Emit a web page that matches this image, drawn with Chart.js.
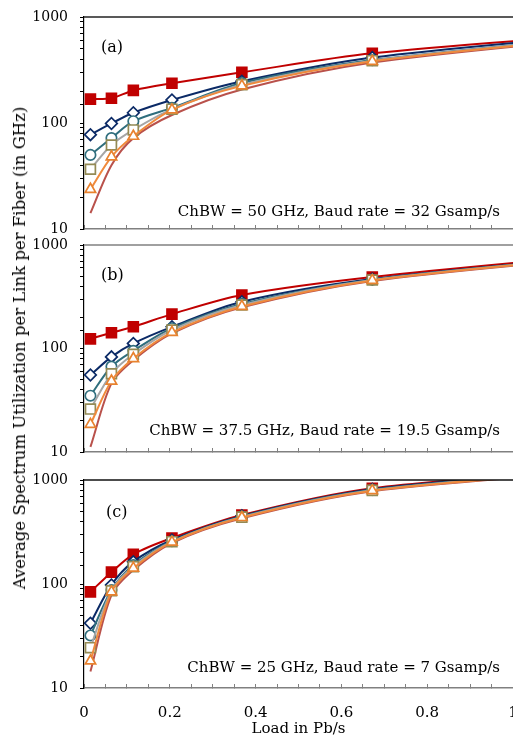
<!DOCTYPE html>
<html>
<head>
<meta charset="utf-8">
<script src="https://cdn.jsdelivr.net/npm/chart.js@4.4.1/dist/chart.umd.min.js"></script>
<style>
  html, body { margin: 0; padding: 0; background: #fff; overflow: hidden; }
  #wrap { position: relative; width: 513px; height: 740px; font-family: 'DejaVu Serif', serif; color: #000; }
  #wrap canvas { position: absolute; left: 0; top: 0; }
  .txt { position: absolute; white-space: nowrap; line-height: 18px; }
  .tag { font-size: 16px; }
  .note { font-size: 15px; right: 13px; }
  #ytitle { left: 20px; top: 348px; font-size: 16.5px; transform: translate(-50%, -50%) rotate(-90deg); }
</style>
</head>
<body>
<div id="wrap">
  <canvas id="panel-a" width="513" height="740"></canvas>
  <canvas id="panel-b" width="513" height="740"></canvas>
  <canvas id="panel-c" width="513" height="740"></canvas>
  <div class="txt tag" style="left:101px; top:38px;">(a)</div>
  <div class="txt tag" style="left:101px; top:266px;">(b)</div>
  <div class="txt tag" style="left:106px; top:503px;">(c)</div>
  <div class="txt note" style="top:202px;">ChBW = 50 GHz, Baud rate = 32 Gsamp/s</div>
  <div class="txt note" style="top:421px;">ChBW = 37.5 GHz, Baud rate = 19.5 Gsamp/s</div>
  <div class="txt note" style="top:658px;">ChBW = 25 GHz, Baud rate = 7 Gsamp/s</div>
  <div class="txt" id="ytitle">Average Spectrum Utilization per Link per Fiber (in GHz)</div>
</div>
<script>
// offered load (Pb/s), shared by every curve
const loads = [0.015, 0.064, 0.115, 0.205, 0.368, 0.672, 1.22];
const yMajorTicks = [10, 100, 1000];
const xLabelTicks = [0, 0.2, 0.4, 0.6, 0.8, 1];

// (a) ChBW = 50 GHz
const aRed    = [168, 171, 203, 237, 301, 454, 693];
const aBlue   = [77.6, 99, 125, 165, 248, 415, 690];
const aTeal   = [50, 72, 104, 139, 238, 392, 660];
const aGray   = [36.6, 62, 86, 135, 230, 387, 655];
const aOrange = [23.7, 48, 75, 133, 224, 382, 650];
const aBrown  = [14.1, 40, 72, 119, 207, 372, 645];

// (b) ChBW = 37.5 GHz
const bRed    = [124, 142, 162, 215, 329, 491, 816];
const bBlue   = [55.5, 83, 112, 162, 283, 469, 790];
const bTeal   = [35, 67, 95, 157, 270, 462, 785];
const bGray   = [26, 57, 88, 151, 263, 459, 781];
const bOrange = [18.5, 48.5, 80, 143, 255, 455, 778];
const bBrown  = [11.2, 46, 77, 140, 250, 450, 772];

// (c) ChBW = 25 GHz
const cRed    = [84, 130, 193, 277, 460, 832, 1300];
const cBlue   = [42, 98, 164, 265, 452, 815, 1280];
const cTeal   = [32, 87.5, 152, 258, 445, 805, 1265];
const cGray   = [24.4, 86, 147, 255, 440, 795, 1255];
const cOrange = [18.2, 84, 142, 253, 436, 790, 1245];
const cBrown  = [14.4, 78, 136, 248, 428, 780, 1235];

const tickFont = { family: 'DejaVu Serif', size: 14 };

const topFrame = {
  id: 'topFrame',
  afterDraw(chart, args, opts) {
    const { ctx, chartArea } = chart;
    ctx.save();
    ctx.strokeStyle = opts.color;
    ctx.lineWidth = 1.5;
    ctx.beginPath();
    ctx.moveTo(chartArea.left, chartArea.top);
    ctx.lineTo(chartArea.right, chartArea.top);
    ctx.stroke();
    ctx.restore();
  }
};

function series(values, style) {
  return Object.assign({
    data: loads.map((x, i) => ({ x, y: values[i] })),
    borderWidth: 2,
    tension: 0.3,
    pointBorderWidth: 1.7,
    pointBackgroundColor: '#fff'
  }, style);
}

function buildDatasets(red, blue, teal, gray, orange, brown) {
  return [
    series(orange, { borderColor: '#f08a3c', pointBorderColor: '#e8822f', pointStyle: 'triangle', pointRadius: 6, order: 1 }),
    series(gray, { borderColor: '#a6a6a6', pointBorderColor: '#948a54', pointStyle: 'rect', pointRadius: 7, order: 2 }),
    series(brown, { borderColor: '#b9514b', pointRadius: 0, order: 3 }),
    series(teal, { borderColor: '#2f6e7d', pointBorderColor: '#2f6e7d', pointStyle: 'circle', pointRadius: 5.2, order: 4 }),
    series(blue, { borderColor: '#0b2a66', pointBorderColor: '#0b2a66', pointStyle: 'rectRot', pointRadius: 5.8, order: 5 }),
    series(red, { borderColor: '#c00000', pointBorderColor: '#c00000', pointBackgroundColor: '#c00000', pointStyle: 'rect', pointRadius: 7, order: 6 })
  ];
}

function makePanel(canvasId, datasets, top, bottom, frameColor, showX) {
  const ctx = document.getElementById(canvasId).getContext('2d');
  return new Chart(ctx, {
    type: 'line',
    data: { datasets },
    plugins: [topFrame],
    options: {
      responsive: false,
      animation: false,
      layout: { autoPadding: false, padding: { top, left: 0, right: 0, bottom: 0 } },
      plugins: {
        legend: { display: false },
        tooltip: { enabled: false },
        topFrame: { color: frameColor }
      },
      scales: {
        x: {
          type: 'linear',
          min: 0,
          max: 1,
          border: { display: true, color: '#808080', width: 1.5 },
          grid: { drawOnChartArea: false, drawTicks: true, tickLength: -4, color: '#808080' },
          ticks: {
            display: showX,
            stepSize: 0.05,
            autoSkip: false,
            maxRotation: 0,
            padding: 20,
            color: '#000',
            font: { family: 'DejaVu Serif', size: 15 },
            callback(v) {
              const hit = xLabelTicks.find(t => Math.abs(t - v) < 1e-6);
              return hit === undefined ? '' : String(hit);
            }
          },
          title: {
            display: showX,
            text: 'Load in Pb/s',
            color: '#000',
            font: { family: 'DejaVu Serif', size: 15 },
            padding: { top: 0, bottom: 2 }
          },
          afterFit(scale) {
            scale.height = 740 - bottom;
            scale.paddingLeft = 0;
            scale.paddingRight = 0;
          }
        },
        y: {
          type: 'logarithmic',
          min: 10,
          max: 1000,
          border: { display: true, color: '#000', width: 1.2 },
          grid: { drawOnChartArea: false, drawTicks: true, tickLength: 4, color: '#000' },
          ticks: {
            autoSkip: false,
            padding: 12,
            color: '#000',
            font: tickFont,
            callback: v => yMajorTicks.includes(v) ? String(v) : ''
          },
          afterFit(scale) {
            scale.width = 84;
            scale.paddingTop = 0;
            scale.paddingBottom = 0;
          }
        }
      }
    }
  });
}

makePanel('panel-a', buildDatasets(aRed, aBlue, aTeal, aGray, aOrange, aBrown), 17, 229, '#222', false);
makePanel('panel-b', buildDatasets(bRed, bBlue, bTeal, bGray, bOrange, bBrown), 245, 452, '#808080', false);
makePanel('panel-c', buildDatasets(cRed, cBlue, cTeal, cGray, cOrange, cBrown), 480, 688, '#111', true);
</script>
</body>
</html>
